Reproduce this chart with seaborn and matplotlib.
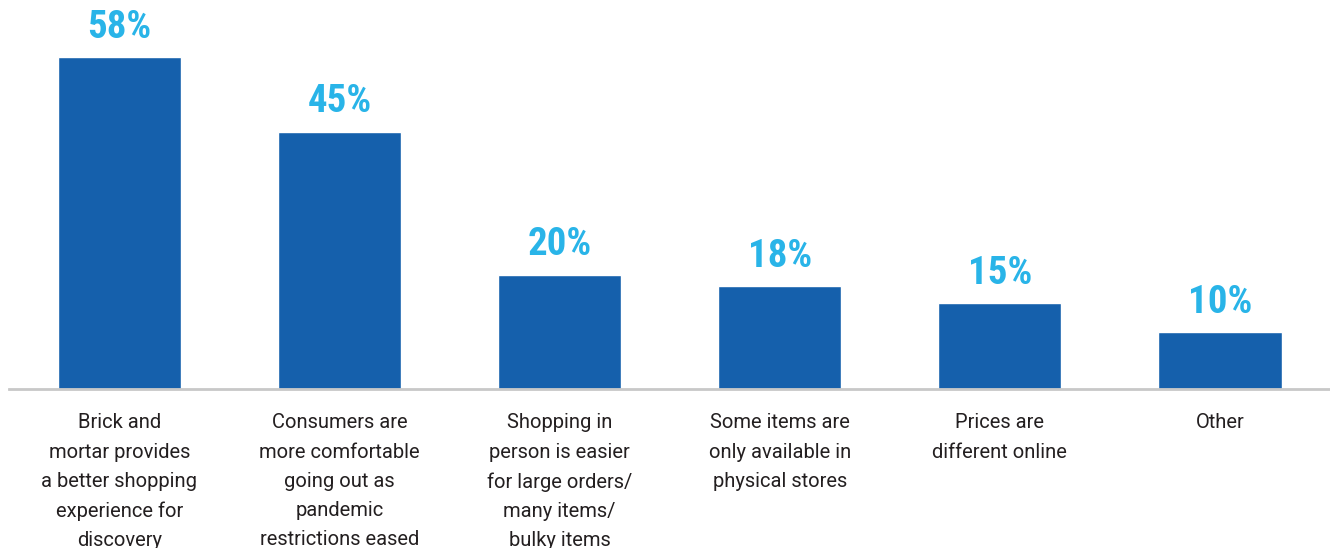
import matplotlib
matplotlib.use("Agg")
import matplotlib.pyplot as plt
import seaborn as sns
import pandas as pd

categories = [
    "Brick and\nmortar provides\na better shopping\nexperience for\ndiscovery",
    "Consumers are\nmore comfortable\ngoing out as\npandemic\nrestrictions eased",
    "Shopping in\nperson is easier\nfor large orders/\nmany items/\nbulky items",
    "Some items are\nonly available in\nphysical stores",
    "Prices are\ndifferent online",
    "Other",
]
values = [58, 45, 20, 18, 15, 10]
value_labels = ["58%", "45%", "20%", "18%", "15%", "10%"]

df = pd.DataFrame({"category": categories, "value": values})

sns.set_theme(style="white")
plt.rcParams["font.family"] = ["Roboto", "DejaVu Sans"]

fig = plt.figure(figsize=(13.3, 5.48), dpi=100)
ax = fig.add_axes([9.35 / 1330, 159 / 548, 1 - 9.35 / 1330, 389 / 548])

sns.barplot(data=df, x="category", y="value", color="#1560ac", saturation=1,
            width=0.56, ax=ax)

ax.set_xlim(-0.5, len(categories) - 0.5)
ax.set_ylim(0, 68)

for i, (v, lab) in enumerate(zip(values, value_labels)):
    ax.annotate(lab, (i, v), xytext=(0, 8), textcoords="offset points",
                ha="center", va="bottom", color="#29b4e8", fontsize=28,
                fontweight="bold", fontstretch="condensed",
                family=["Roboto Condensed", "Liberation Sans Narrow", "DejaVu Sans"])

for s in ["top", "right", "left"]:
    ax.spines[s].set_visible(False)
ax.spines["bottom"].set_color("#c8c8c8")
ax.spines["bottom"].set_linewidth(2)

ax.set_yticks([])
ax.set_xlabel("")
ax.set_ylabel("")
ax.tick_params(axis="x", length=0, pad=17.5)
ax.set_xticks(range(len(categories)))
ax.set_xticklabels(categories, fontsize=14.5, color="#231f20", linespacing=1.68,
                   va="top")

fig.savefig("out.png", dpi=100)
